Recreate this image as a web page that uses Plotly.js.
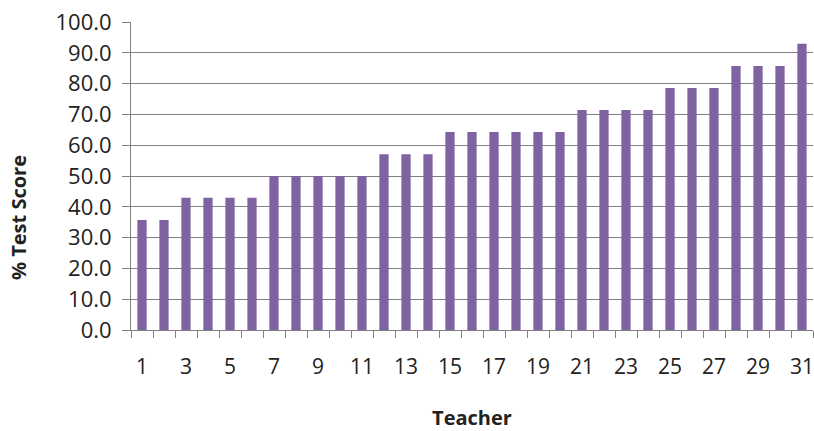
<!DOCTYPE html>
<html>
<head>
<meta charset="utf-8">
<script src="https://cdn.plot.ly/plotly-3.0.1.min.js"></script>
<style>html,body{margin:0;padding:0;background:#fff;}#chart{width:814px;height:431px;}</style>
</head>
<body>
<div id="chart"></div>
<script>
const teachers = [1,2,3,4,5,6,7,8,9,10,11,12,13,14,15,16,17,18,19,20,21,22,23,24,25,26,27,28,29,30,31];
const scores = [35.7,35.7,42.9,42.9,42.9,42.9,50.0,50.0,50.0,50.0,50.0,57.1,57.1,57.1,64.3,64.3,64.3,64.3,64.3,64.3,71.4,71.4,71.4,71.4,78.6,78.6,78.6,85.7,85.7,85.7,92.9];
const xLabels = [1,3,5,7,9,11,13,15,17,19,21,23,25,27,29,31];

const font = 'Open Sans, Liberation Sans, sans-serif';
Plotly.newPlot('chart', [{
  type: 'bar',
  x: teachers,
  y: scores,
  width: 0.42,
  marker: {color: '#7F62A1'},
  hoverinfo: 'x+y'
}], {
  width: 814, height: 431,
  margin: {l: 131, r: 1, t: 22, b: 101},
  paper_bgcolor: '#fff', plot_bgcolor: '#fff',
  showlegend: false,
  font: {family: font, size: 16, color: '#222'},
  xaxis: {
    range: [0.5, 31.5],
    tickmode: 'array',
    tickvals: xLabels,
    ticktext: xLabels.map(String),
    ticks: '',
    ticklabelstandoff: 18,
    ticklabeloverflow: 'allow',
    showgrid: false,
    zeroline: false,
    showline: true, linecolor: '#808080', linewidth: 1,
    minor: {tick0: 0.5, dtick: 1, ticks: 'outside', ticklen: 7, tickcolor: '#808080', tickwidth: 1, showgrid: false},
    tickfont: {size: 21, color: '#222'},
    title: {text: 'Teacher', font: {size: 20, color: '#222', weight: 'bold'}, standoff: 32}
  },
  yaxis: {
    range: [0, 100],
    tickmode: 'linear', tick0: 0, dtick: 10,
    tickformat: '.1f',
    ticks: 'outside', ticklen: 8, tickcolor: '#808080',
    ticklabelstandoff: 6,
    showgrid: true, gridcolor: '#808080', gridwidth: 1,
    zeroline: false,
    showline: true, linecolor: '#808080', linewidth: 1,
    tickfont: {size: 22, color: '#222'}
  },
  annotations: [{
    text: '% Test Score',
    xref: 'paper', yref: 'paper',
    x: (18 - 131) / 682, y: (330 - 218) / 308,
    xanchor: 'center', yanchor: 'middle',
    textangle: -90, showarrow: false,
    font: {size: 20, color: '#222', weight: 'bold'}
  }],
  bargap: 0.58
}, {displayModeBar: false, staticPlot: true});
</script>
</body>
</html>
